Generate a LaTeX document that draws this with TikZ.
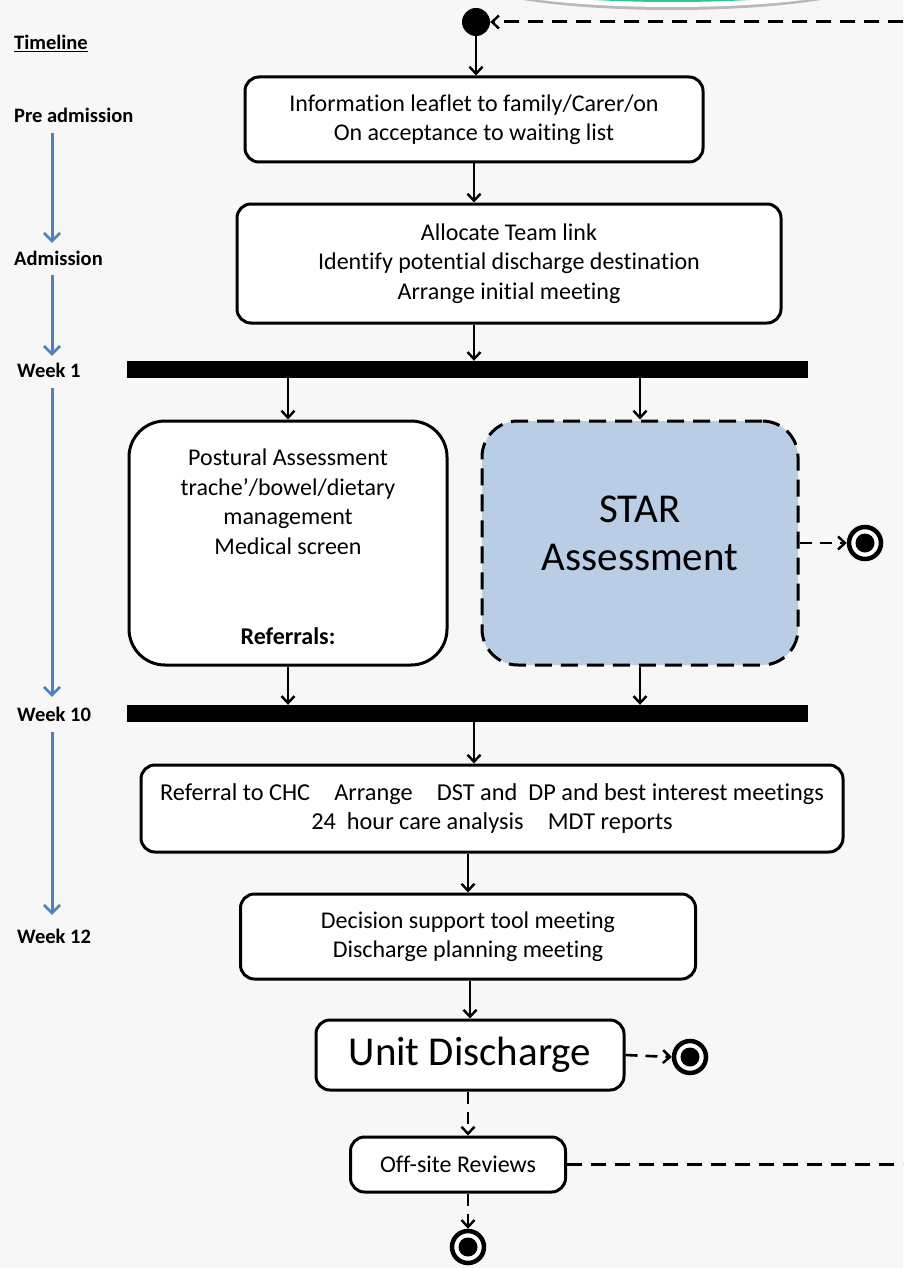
\documentclass[tikz,border=0pt]{standalone}
\usepackage{fontspec}
\setmainfont{Carlito}[Ligatures={NoCommon}]
\usetikzlibrary{arrows.meta}
\definecolor{tlblue}{RGB}{79,129,189}
\definecolor{starfill}{RGB}{185,205,229}
\definecolor{paper}{RGB}{247,247,247}
\definecolor{tealtop}{RGB}{48,196,158}

\begin{document}
\begin{tikzpicture}[x=1pt,y=-1pt,
  box/.style={draw=black, line width=3pt, fill=white, rounded corners=14pt,
    align=center, inner sep=0pt, font=\fontsize{24}{29.5}\selectfont},
  bigbox/.style={box, rounded corners=36pt},
  boxtext/.style={align=center, inner sep=0pt, font=\fontsize{24}{29.5}\selectfont},
  bar/.style={fill=black, inner sep=0pt, minimum width=681pt, minimum height=17pt},
  bigtext/.style={align=center, inner sep=0pt, font=\fontsize{41}{48}\selectfont},
  tl/.style={anchor=west, inner sep=0pt, text height=14pt, text depth=4pt,
    font=\fontsize{20.5}{24}\selectfont\bfseries},
  flow/.style={line width=2.6pt, -{Straight Barb[length=7pt,width=13pt,line width=2.4pt]}},
  flowdash/.style={flow, dash pattern=on 12pt off 8pt},
  loopline/.style={line width=3pt, dash pattern=on 15pt off 9pt},
  tlarrow/.style={draw=tlblue, line width=3pt,
    -{Straight Barb[length=8pt,width=16pt,line width=2.6pt]}},
  startdot/.style={circle, fill=black, inner sep=0pt, minimum size=28pt},
  endmark/.style={circle, draw=black, line width=4.5pt, fill=white, inner sep=0pt,
    minimum size=32pt, path picture={\fill[black] (path picture bounding box.center) circle (9.5pt);}}
]
\useasboundingbox (0,0) rectangle (903,1268);
\fill[paper] (0,0) rectangle (903,1268);

% decorative shape peeking in at the top edge
\begin{scope}
  \clip (0,0) rectangle (903,1268);
  \fill[gray!55] (672,-22) ellipse (205pt and 32pt);
  \fill[white] (672,-22) ellipse (202pt and 29pt);
  \fill[tealtop] (672,-22) ellipse (194pt and 24pt);
\end{scope}

% timeline column
\node[tl] (tTime) at (14,45) {\underline{Timeline}};
\node[tl] (tPre)  at (14,118) {Pre admission};
\node[tl] (tAdm)  at (14,260) {Admission};
\node[tl] (tW1)   at (17,372) {Week 1};
\node[tl] (tW10)  at (17,716) {Week 10};
\node[tl] (tW12)  at (17,938) {Week 12};
\coordinate (tlx) at (52,0);
\draw[tlarrow, shorten <=6pt, shorten >=8pt] (tPre.south -| tlx) -- (tAdm.north -| tlx);
\draw[tlarrow, shorten <=6pt, shorten >=7pt] (tAdm.south -| tlx) -- (tW1.north -| tlx);
\draw[tlarrow, shorten <=7pt, shorten >=10pt] (tW1.south -| tlx) -- (tW10.north -| tlx);
\draw[tlarrow, shorten <=7pt, shorten >=14pt] (tW10.south -| tlx) -- (tW12.north -| tlx);

% activity nodes
\node[startdot] (start) at (476,22) {};
\node[box, minimum width=458pt, minimum height=85pt] (info) at (474,119.5)
  {\fontsize{24}{31}\selectfont Information leaflet to family/Carer/on\\On acceptance to waiting list};
\node[box, minimum width=544pt, minimum height=119pt] (alloc) at (509,263.5)
  {Allocate Team link\\Identify potential discharge destination\\Arrange initial meeting};
\node[bar] (fork) at (467.5,369.5) {};
\node[bigbox, minimum width=318pt, minimum height=244pt] (postural) at (288,543) {};
\node[boxtext] (posturallbl) at (288,547)
  {Postural Assessment\\trache’/bowel/dietary\\management\\Medical screen\\[61pt]\textbf{Referrals:}};
\node[bigbox, fill=starfill, dash pattern=on 17pt off 9pt, minimum width=316pt, minimum height=244pt] (star) at (640,543) {};
\node[bigtext] (starlbl) at (640,533) {STAR\\Assessment};
\node[endmark] (endStar) at (865,543) {};
\node[bar] (join) at (467.5,713.5) {};
\node[box, minimum width=702pt, minimum height=87pt, font=\fontsize{24.3}{29.5}\selectfont] (chc) at (492,808.5)
  {Referral to CHC\quad Arrange\quad DST and\ \ DP and best interest meetings\\24\ \ hour care analysis\quad MDT reports};
\node[box, minimum width=455pt, minimum height=85pt] (dst) at (468,936.5)
  {Decision support tool meeting\\Discharge planning meeting};
\node[box, minimum width=308pt, minimum height=70pt, font=\fontsize{41}{48}\selectfont] (unit) at (470,1055) {Unit Discharge};
\node[endmark] (endUnit) at (690,1057) {};
\node[box, minimum width=215pt, minimum height=55pt] (offsite) at (458,1164.5) {Off-site Reviews};
\node[endmark] (endOff) at (468,1247) {};

% loop back from the reviews to the start
\coordinate (loopTop) at (903,22);
\coordinate (loopBot) at (903,1164.5);

% connectors
\draw[loopline, -{Straight Barb[length=7pt,width=13pt,line width=2.4pt]}] (loopTop) -- (start.east);
\draw[flow] (start.south) -- (start.south |- info.north);
\draw[flow] (info.south) -- (info.south |- alloc.north);
\draw[flow] (info.south |- alloc.south) -- (info.south |- fork.north);
\draw[flow] (postural.north |- fork.south) -- (postural.north);
\draw[flow] (star.north |- fork.south) -- (star.north);
\draw[flowdash] (star.east) -- (endStar.west);
\draw[flow] (postural.south) -- (postural.south |- join.north);
\draw[flow] (star.south) -- (star.south |- join.north);
\draw[flow] (info.south |- join.south) -- (info.south |- chc.north);
\draw[flow] (dst.north |- chc.south) -- (dst.north);
\draw[flow] (unit.north |- dst.south) -- (unit.north);
\draw[flowdash] (unit.east) -- (endUnit.west);
\draw[flowdash] (endOff.north |- unit.south) -- (endOff.north |- offsite.north);
\draw[flowdash] (endOff.north |- offsite.south) -- (endOff.north);
\draw[loopline] (offsite.east) -- (loopBot);
\end{tikzpicture}
\end{document}
